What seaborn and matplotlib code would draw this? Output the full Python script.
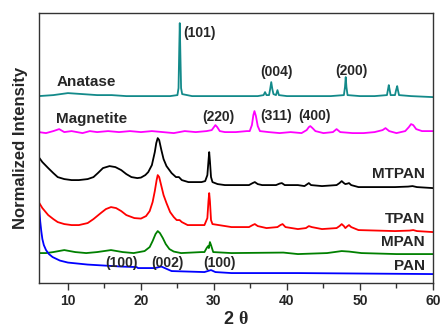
import pandas as pd
import numpy as np
from matplotlib import pyplot as plt
from matplotlib.ticker import MultipleLocator
import seaborn as sns

# XRD patterns, stacked with offsets (arbitrary units)
anatase_x = [6, 8, 10, 12, 14, 16, 18, 20, 22, 24, 25.0, 25.15, 25.25, 25.32, 25.4, 25.5, 25.65, 27, 30, 33, 36,
             36.8, 37.0, 37.2, 37.55, 37.7, 37.85, 38.0, 38.15, 38.5, 38.7, 38.9, 40, 43, 46, 47.8, 47.95,
             48.05, 48.15, 48.3, 50, 52, 53.7, 53.85, 53.95, 54.05, 54.2, 54.8, 54.95, 55.1, 55.2, 55.35,
             57, 60]
anatase_y = [187, 188, 190, 189, 188, 188, 187, 187, 187, 187, 188, 195, 235, 260, 230, 195, 189, 187, 187, 187, 187,
             188, 191, 188, 188, 194, 201, 194, 189, 188, 193, 188, 187, 187, 187, 188, 196,
             206, 196, 188, 187, 187, 188, 194, 198, 194, 188, 188, 193, 197, 193, 188,
             187, 186]

magnetite_x = [6, 7, 8, 8.8, 9.5, 10.5, 12, 13, 14, 15.5, 17, 18.5, 20, 21.5, 23, 24.5, 26, 27.5, 29,
               29.7, 30.0, 30.2, 30.45, 30.8, 31.5, 33, 34.5, 34.9, 35.2, 35.4, 35.55, 35.75, 36.0, 36.3,
               37.5, 39, 40.5, 42, 42.7, 43.0, 43.2, 43.5, 43.9, 45, 46.3, 46.8, 47.3, 49, 50.5, 52, 53.1,
               53.5, 54, 55, 56.2, 56.7, 57.0, 57.3, 57.7, 58.5, 60]
magnetite_y = [151, 150, 152, 154, 151, 152, 150, 152, 151, 152, 151, 152, 151, 152, 151, 150, 152, 151, 152,
               153, 156, 158, 156, 152, 151, 151, 152, 152, 158, 168, 172, 167, 157, 152,
               151, 150, 151, 150, 153, 156, 157, 155, 152, 150, 151, 154, 151, 150, 150, 151, 153,
               155, 152, 150, 152, 156, 159, 158, 154, 152, 152]

mtpan_x = [6, 6.5, 7.3, 8.0, 8.6, 9.5, 10.5, 11.5, 12.7, 13.5, 14.1, 14.8, 15.7, 16.5, 17.3, 18.0, 18.7,
           19.5, 20.0, 20.6, 21.0, 21.5, 21.9, 22.1, 22.3, 22.5, 22.8, 23.1, 23.5, 24.2, 24.8, 25.2,
           25.6, 26.5, 28.3, 28.8, 29.1, 29.25, 29.35, 29.45, 29.6, 29.8, 30.5, 31.5, 34.8, 35.3, 35.6,
           36.0, 36.6, 38.5, 39.0, 39.3, 39.7, 41.5, 42.4, 42.8, 43.0, 43.3, 44.8, 46.8, 47.2, 47.5,
           47.8, 48.0, 48.3, 48.5, 48.8, 49.8, 54.8, 56.6, 57.2, 57.8, 60]
mtpan_y = [126, 121, 115, 110, 106, 104, 103, 103, 104, 106, 110, 115, 117, 116, 113, 109, 106,
           105, 105.5, 108, 111, 118, 131, 140, 145, 143, 133, 124, 117, 110, 106, 106,
           103, 101, 101, 102, 108, 122, 131, 122, 106, 101, 99, 98, 98, 100, 101,
           99, 98, 98, 99.5, 100, 98, 98, 97, 99, 100, 98, 97, 98, 100, 102,
           100, 99, 99.5, 100, 98, 96, 96, 96.5, 97, 96, 95]

tpan_x = [6, 6.5, 7.3, 8.0, 8.6, 9.5, 10.5, 11.5, 12.7, 13.5, 14.5, 15.2, 15.9, 16.6, 17.3, 18.0, 19.1,
          20.0, 20.7, 21.2, 21.6, 21.9, 22.15, 22.3, 22.5, 22.8, 23.1, 23.5, 24.0, 24.5, 24.9, 25.3,
          25.6, 26.4, 28.7, 29.1, 29.25, 29.35, 29.45, 29.6, 29.8, 32.4, 34.8, 35.3, 35.6, 36.0, 37.2,
          38.7, 39.1, 39.4, 39.8, 41.5, 42.6, 43.0, 43.4, 44.8, 46.8, 47.2, 47.5, 47.8, 48.0, 48.3,
          48.5, 48.8, 49.8, 54.8, 56.8, 57.3, 57.8, 60]
tpan_y = [81, 75, 68, 64, 61, 59, 58, 58, 60, 64, 70, 74, 76, 75, 72, 68, 65,
          64.5, 67, 72, 81, 92, 103, 108, 106, 97, 88, 80, 71, 66, 63, 63,
          61, 58, 58, 65, 82, 90, 82, 63, 59, 56, 56, 58, 59, 57, 55,
          56, 58, 59, 56, 54, 55, 57, 56, 54, 55, 57, 59, 57, 55, 57,
          58, 56, 53, 52, 52.5, 53, 52, 51]

mpan_x = [6, 7.0, 8.0, 9.5, 11.0, 12.5, 14.0, 15.9, 17.5, 19.0, 20.5, 21.2, 21.6, 22.0, 22.3, 22.6,
          23.0, 23.4, 23.9, 24.5, 25.5, 28.3, 28.7, 29.0, 29.2, 29.3, 29.45, 29.6, 29.9, 32.4, 39.5,
          41.5, 45.5, 47.5, 48.5, 50.2, 55, 60]
mpan_y = [30, 30, 31, 33, 31, 30, 31, 33, 31, 30, 32, 36, 42, 49, 52, 50,
          45, 39, 34, 31.5, 30, 31, 31, 35, 37, 35, 41, 38, 31, 30, 30.5,
          29, 30, 32, 31.5, 30, 29, 29]

pan_x = [6.0, 6.1, 6.2, 6.35, 6.5, 6.7, 7.0, 7.4, 7.9, 8.9, 10.0, 12.7, 17.3, 19.4, 19.6, 21.9, 22.8,
         24.2, 28.7, 29.6, 30.2, 32.4, 41.5, 60]
pan_y = [81, 72, 62, 52, 44, 38, 33, 29, 26, 22.5, 20.5, 18.5, 16.5, 16, 15, 15, 16.5,
         12, 11, 13, 11, 10, 10, 9]

series = [("Anatase", anatase_x, anatase_y, "#138a8a"),
          ("Magnetite", magnetite_x, magnetite_y, "#ff00ff"),
          ("MTPAN", mtpan_x, mtpan_y, "black"),
          ("TPAN", tpan_x, tpan_y, "#ff0000"),
          ("MPAN", mpan_x, mpan_y, "#008000"),
          ("PAN", pan_x, pan_y, "#0000ff")]

sns.set_theme(style="ticks")
plt.rcParams['font.family'] = ['Liberation Sans', 'DejaVu Sans']
plt.rcParams['font.weight'] = 'bold'
plt.rcParams['mathtext.fontset'] = 'custom'
plt.rcParams['mathtext.rm'] = 'Liberation Serif'
plt.rcParams['mathtext.bf'] = 'Liberation Serif:bold'

fig = plt.figure(figsize=(4.4, 3.28), dpi=100)
ax = fig.add_axes([0.088, 0.137, 0.896, 0.823])

for name, xs, ys, col in series:
    df = pd.DataFrame({"two_theta": xs, "intensity": ys})
    sns.lineplot(data=df, x="two_theta", y="intensity", color=col, linewidth=1.3,
                 estimator=None, sort=False, ax=ax)

# curve names
ax.text(12.5, 201, "Anatase", ha="center", va="center", fontsize=11, fontweight="bold")
ax.text(13.2, 164, "Magnetite", ha="center", va="center", fontsize=11, fontweight="bold")
ax.text(58.9, 109, "MTPAN", ha="right", va="center", fontsize=11, fontweight="bold")
ax.text(58.9, 64, "TPAN", ha="right", va="center", fontsize=11, fontweight="bold")
ax.text(58.9, 41, "MPAN", ha="right", va="center", fontsize=11, fontweight="bold")
ax.text(58.9, 17, "PAN", ha="right", va="center", fontsize=11, fontweight="bold")

# peak indices
peaks = [(25.75, 250, "(101)", "left"), (38.6, 211, "(004)", "center"), (48.9, 212, "(200)", "center"),
         (30.6, 166, "(220)", "center"), (38.5, 167, "(311)", "center"), (43.8, 167, "(400)", "center"),
         (17.3, 20, "(100)", "center"), (23.6, 20, "(002)", "center"), (30.7, 20, "(100)", "center")]
for px, py, lab, ha in peaks:
    ax.text(px, py, lab, ha=ha, va="center", fontsize=10, fontweight="bold")

ax.set_xlim(6, 60)
ax.set_ylim(0, 270)
ax.set_yticks([])
ax.xaxis.set_major_locator(MultipleLocator(10))
ax.xaxis.set_minor_locator(MultipleLocator(5))
ax.tick_params(axis="x", which="major", length=5, width=1, labelsize=10, pad=3, color="#333333")
ax.tick_params(axis="x", which="minor", length=3.5, width=1, color="#333333", bottom=True)
for t in ax.get_xticklabels():
    t.set_fontweight("bold")
for s in ax.spines.values():
    s.set_visible(True)
    s.set_color("#333333")
    s.set_linewidth(1)

ax.set_ylabel("Normalized Intensity", fontsize=12, fontweight="bold", labelpad=8)
ax.set_xlabel(r"2 $\mathbf{\theta}$", fontsize=13, fontweight="bold", labelpad=2)

fig.savefig("out.png", dpi=100)
